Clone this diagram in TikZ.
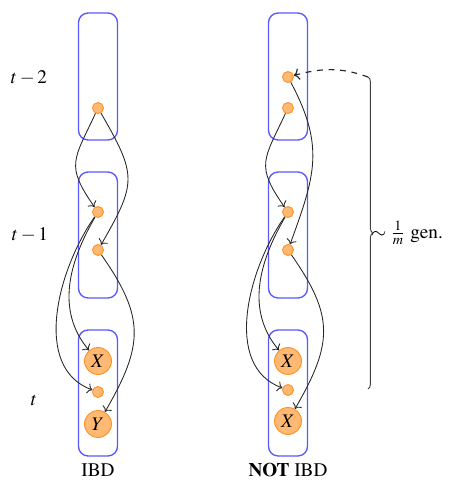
\documentclass[tikz,border=0pt]{standalone}
\usepackage[T1]{fontenc}
\usepackage{mathptmx}
\usetikzlibrary{decorations.pathreplacing,arrows.meta}
\begin{document}
\begin{tikzpicture}[x=0.52pt,y=0.52pt,
  gbox/.style={draw=blue!65, line width=0.7pt, rounded corners=5pt},
  snode/.style={circle, fill=orange!55, draw=orange!85, line width=0.5pt, minimum size=5.7pt, inner sep=0pt},
  bnode/.style={circle, fill=orange!55, draw=orange!85, line width=0.5pt, minimum size=14pt, inner sep=0pt},
  conn/.style={->, line width=0.45pt, black!85},
  lbl/.style={inner sep=1pt}
]
\useasboundingbox (0,0) rectangle (459,-481);
% boxes
\draw[gbox] (78.5,-13) rectangle (117.5,-140);
\draw[gbox] (78.5,-172) rectangle (117.5,-298);
\draw[gbox] (78.5,-330) rectangle (117.5,-456);
\draw[gbox] (268.5,-13) rectangle (307.5,-140);
\draw[gbox] (268.5,-172) rectangle (307.5,-298);
\draw[gbox] (268.5,-330) rectangle (307.5,-456);
% left column nodes
\node[snode] (La) at (98,-108) {};
\node[snode] (Lb1) at (98,-212) {};
\node[snode] (Lb2) at (98,-250) {};
\node[bnode] (LX) at (98,-361) {$X$};
\node[snode] (Ls) at (98,-392) {};
\node[bnode] (LY) at (98,-424) {$Y$};
% right column nodes
\node[snode] (Ra0) at (288,-77) {};
\node[snode] (Ra) at (288,-108) {};
\node[snode] (Rb1) at (288,-212) {};
\node[snode] (Rb2) at (288,-250) {};
\node[bnode] (RX1) at (288,-361) {$X$};
\node[snode] (Rs) at (288,-390) {};
\node[bnode] (RX2) at (288,-421) {$X$};
% left edges
\draw[conn] (La) to[out=-115, in=125, looseness=1.4] (Lb1);
\draw[conn] (La) to[out=-60, in=60, looseness=1.4] (Lb2);
\draw[conn] (Lb1) to[out=-120, in=130, looseness=1.0] (LX);
\draw[conn] (Lb1) to[out=-125, in=160, looseness=0.95] (Ls);
\draw[conn] (Lb2) to[out=-55, in=60, looseness=1.25] (LY);
% right edges
\draw[conn] (Ra) to[out=-115, in=125, looseness=1.4] (Rb1);
\draw[conn] (Ra0) to[out=-62, in=70, looseness=1.15] (Rb2);
\draw[conn] (Rb1) to[out=-120, in=130, looseness=1.0] (RX1);
\draw[conn] (Rb1) to[out=-125, in=160, looseness=0.95] (Rs);
\draw[conn] (Rb2) to[out=-55, in=60, looseness=1.25] (RX2);
% brace and dashed arrow
\coordinate (Btop) at (368,-77);
\coordinate (Bbot) at (368,-389);
\draw[decorate, decoration={brace, amplitude=2.5pt}, line width=0.5pt, black!75] (Btop) -- (Bbot);
\draw[conn, dashed, line width=0.6pt] (Btop) to[out=160, in=15] (Ra0);
% labels
\node[lbl] (lt2) at (29,-78) {$t-2$};
\node[lbl] (lt1) at (30,-235) {$t-1$};
\node[lbl] (lt) at (34,-400) {$t$};
\node[lbl] (ibd) at (98,-470) {IBD};
\node[lbl] (nibd) at (288,-470) {\textbf{NOT} IBD};
\node[anchor=west, inner sep=0pt] (gen) at (371,-233) {$\sim\frac{1}{m}$ gen.};
\end{tikzpicture}
\end{document}
